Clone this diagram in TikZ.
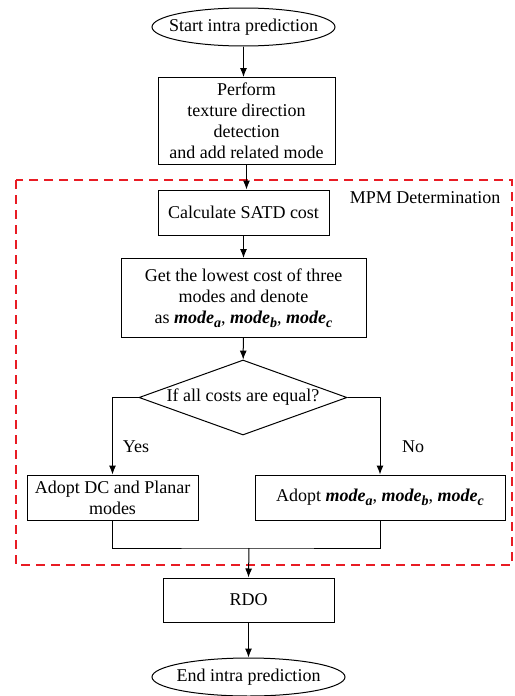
\documentclass[tikz,border=0pt]{standalone}
\usepackage{fontspec}
\setmainfont{Liberation Serif}
\usetikzlibrary{shapes.geometric,arrows.meta}
\definecolor{mpmred}{RGB}{232,28,36}
\newcommand{\bmode}[1]{\textbf{\textit{mode}}\raisebox{-4.5pt}{\fontsize{14}{14}\selectfont\textbf{\textit{#1}}}}
\begin{document}
\begin{tikzpicture}[x=1pt,y=-1pt,
        every node/.style={font=\fontsize{18}{21}\selectfont},
        process/.style={draw,rectangle,align=center,inner sep=1pt,
            line width=1pt},
        terminal/.style={draw,ellipse,inner sep=0pt,line width=1pt,
            minimum width=183pt,minimum height=38pt},
        decision/.style={draw,diamond,inner sep=0pt,line width=1pt,
            minimum width=208pt,minimum height=75pt},
        flow/.style={line width=1pt},
        mpmframe/.style={draw=mpmred,line width=2.5pt,
            dash pattern=on 9pt off 6pt},
        >={Latex[length=9pt,width=7pt]}]
    \useasboundingbox (0,0) rectangle (514,696);
    % MPM block
    \draw[mpmframe] (16,180) rectangle (512,565);
    \node[anchor=east] (mpmlabel) at (504,198) {MPM Determination};

\node[terminal,label={center:Start intra prediction}] (start) at (243.5,27) {};
\node[process,minimum width=177pt,minimum height=87pt] (detect) at (246.5,121)
    {Perform\\texture direction\\detection\\and add related mode};
\node[process,minimum width=171pt,minimum height=45pt] (satd) at (243.5,212.5)
    {Calculate SATD cost};
\node[process,minimum width=245pt,minimum height=79pt] (lowest) at (243.5,298)
    {Get the lowest cost of three\\modes and denote\\as \bmode{a}, \bmode{b}, \bmode{c}};
\node[decision,label={center:If all costs are equal?}] (equal) at (243,397.5) {};
\node[process,minimum width=171pt,minimum height=45pt] (dcplanar) at (112.5,497.5)
    {Adopt DC and Planar\\modes};
\node[process,minimum width=250pt,minimum height=45pt] (adopt) at (380,497.5)
    {Adopt \bmode{a}, \bmode{b}, \bmode{c}};
\coordinate (merge) at (249,548);
\node[process,minimum width=171pt,minimum height=44pt] (rdo) at (248.5,600)
    {RDO};
\node[terminal,minimum width=193pt,label={center:End intra prediction}] (finish) at (248.5,677) {};

\node (yes) at (136,447) {Yes};
\node (no) at (413,447) {No};

\draw[flow,->] (start) -- (start |- detect.north);
\draw[flow,->] (detect.south) -- (detect.south |- satd.north);
\draw[flow,->] (satd) -- (lowest);
\draw[flow,->] (lowest) -- (equal);
\draw[flow,->] (equal.west) -| (dcplanar.north);
\draw[flow,->] (equal.east) -| (adopt.north);
\draw[flow] (dcplanar.south) |- (merge) -| (adopt.south);
\draw[flow,->] (merge) -- (rdo.north);
\draw[flow,->] (rdo) -- (finish);
\end{tikzpicture}
\end{document}
